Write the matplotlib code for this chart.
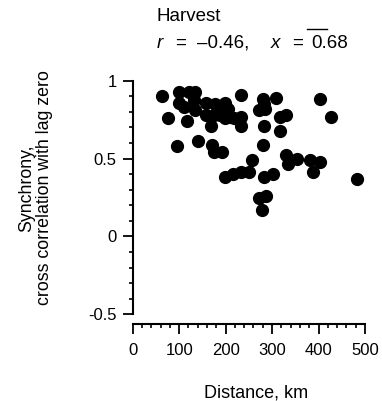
import matplotlib
matplotlib.use("Agg")
import matplotlib.pyplot as plt
from matplotlib.lines import Line2D
from matplotlib.ticker import MultipleLocator, FixedLocator

plt.rcParams['font.family'] = ['Liberation Sans', 'DejaVu Sans']
plt.rcParams['axes.unicode_minus'] = False

# Data (distance in km, synchrony)
distance = [63, 100, 100, 111, 122, 134, 133, 135, 77, 117,
            158, 158, 178, 199, 181, 188, 201, 198, 217, 233,
            233, 169, 233, 281, 282, 272, 285, 309, 282, 318,
            331, 318, 403, 427, 95, 140, 171, 174, 193, 280,
            256, 198, 216, 233, 251, 283, 302, 330, 335, 353,
            382, 403, 388, 483, 272, 286, 278, 190, 205, 210, 175]
synchrony = [0.90, 0.93, 0.86, 0.83, 0.93, 0.93, 0.875, 0.81, 0.76, 0.74,
             0.86, 0.78, 0.85, 0.86, 0.80, 0.78, 0.80, 0.76, 0.76, 0.91,
             0.77, 0.71, 0.71, 0.88, 0.85, 0.81, 0.82, 0.89, 0.71, 0.77,
             0.78, 0.68, 0.88, 0.77, 0.58, 0.61, 0.59, 0.54, 0.54, 0.59,
             0.49, 0.38, 0.40, 0.415, 0.415, 0.38, 0.40, 0.52, 0.465, 0.50,
             0.49, 0.48, 0.415, 0.37, 0.25, 0.26, 0.17, 0.83, 0.82, 0.77, 0.78]

x_ticks = [0, 100, 200, 300, 400, 500]
y_ticks = [-0.5, 0, 0.5, 1]
y_tick_labels = ['-0.5', '0', '0.5', '1']

W, H = 382, 401
fig = plt.figure(figsize=(W / 100, H / 100), dpi=100)
ax = fig.add_axes([132.7 / W, 1 - 314.3 / H, (365 - 132.7) / W, (314.3 - 80.7) / H])

ax.plot(distance, synchrony, 'o', color='black', markersize=8.5, clip_on=False)

ax.set_xlim(0, 500)
ax.set_ylim(-0.5, 1.0)
for s in ['top', 'right']:
    ax.spines[s].set_visible(False)
ax.spines['left'].set_linewidth(1.5)
ax.spines['bottom'].set_linewidth(1.5)
ax.spines['bottom'].set_position(('outward', 7.2))

ax.xaxis.set_major_locator(FixedLocator(x_ticks))
ax.xaxis.set_minor_locator(MultipleLocator(20))
ax.yaxis.set_major_locator(FixedLocator(y_ticks))
ax.set_yticklabels(y_tick_labels)
ax.yaxis.set_minor_locator(MultipleLocator(0.1))

ax.tick_params(which='major', direction='out', length=7.5, width=1.3, labelsize=12, color='black')
ax.tick_params(which='minor', direction='out', length=3, width=1.2, color='black')
ax.tick_params(axis='x', which='major', pad=6)
ax.tick_params(axis='y', which='major', pad=4)

fig.text(256 / W, 1 - 397 / H, 'Distance, km', fontsize=13, ha='center', va='baseline')
fig.text(36 / W, 1 - 188 / H, 'Synchrony,\ncross correlation with lag zero', fontsize=12.8,
         rotation=90, ha='center', va='center', multialignment='center', linespacing=1.05)

# Title
fs = 13.5
fig.text(156.5 / W, 1 - 20.7 / H, 'Harvest', fontsize=fs, ha='left', va='baseline')
base = 1 - 48 / H
fig.text(156.5 / W, base, 'r', fontsize=fs, style='italic', ha='left', va='baseline')
fig.text(175 / W, base, '=', fontsize=fs, ha='left', va='baseline')
fig.text(197 / W, base, '\u20130.46,', fontsize=fs, ha='left', va='baseline')
fig.text(271 / W, base, 'x', fontsize=fs, style='italic', ha='left', va='baseline')
fig.text(292 / W, base, '=', fontsize=fs, ha='left', va='baseline')
fig.text(311 / W, base, '0.68', fontsize=fs, ha='left', va='baseline')
fig.add_artist(Line2D([307 / W, 327 / W], [1 - 29.3 / H, 1 - 29.3 / H], color='black', linewidth=1.0,
                      transform=fig.transFigure))

fig.savefig('out.png', dpi=100)
